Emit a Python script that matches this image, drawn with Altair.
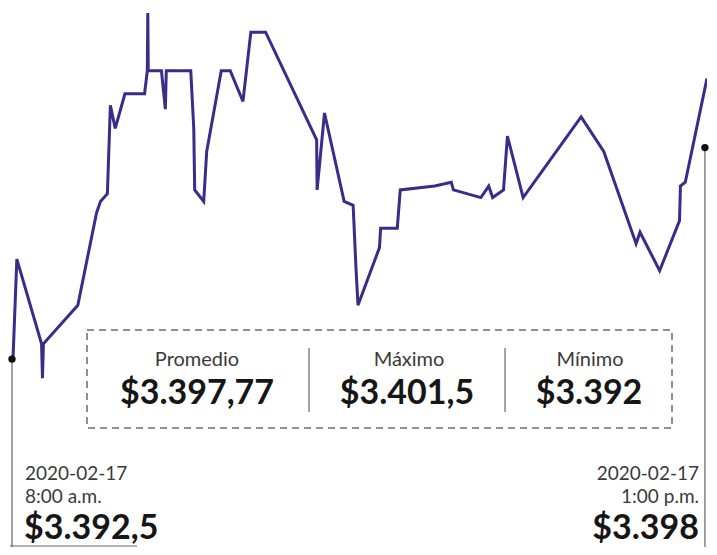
import altair as alt
import pandas as pd

# ---- data ----
minutes = [0, 0.5, 2.1, 12.8, 13.2, 13.6, 28.5, 36.6, 38.3, 41.3, 42.6, 44.7, 48.9, 57.4,
           58.6, 58.8, 59.0, 64.7, 66.4, 66.8, 77.4, 78.7, 79.1, 83.0, 84.3, 90.6, 94.5,
           100.0, 103.4, 109.8, 131.9, 132.1, 135.3, 143.8, 147.7, 148.9, 149.8, 159.1,
           159.6, 166.8, 168.1, 183.0, 190.2, 191.1, 203.0, 206.4, 208.1, 212.8, 214.5,
           221.3, 246.4, 256.2, 270.2, 271.9, 280.4, 289.0, 289.4, 291.5, 300.9]
rates = [3392.5, 3392.6, 3395.1, 3392.9, 3392.0, 3392.9, 3393.9, 3396.3, 3396.6, 3396.8,
         3399.1, 3398.5, 3399.4, 3399.4, 3400.0, 3401.5, 3400.0, 3400.0, 3399.0, 3400.0,
         3400.0, 3398.5, 3396.9, 3396.6, 3397.9, 3400.0, 3400.0, 3399.2, 3401.0, 3401.0,
         3398.2, 3396.9, 3398.9, 3396.6, 3396.5, 3394.9, 3393.9, 3395.4, 3395.9, 3395.9,
         3396.9, 3397.0, 3397.1, 3396.9, 3396.7, 3397.0, 3396.7, 3396.9, 3398.3, 3396.7,
         3398.8, 3397.9, 3395.5, 3395.8, 3394.8, 3396.1, 3397.0, 3397.1, 3399.8]

end_minutes = [0, 300]
end_rates = [3392.5, 3398]

stat_labels = ["Promedio", "Máximo", "Mínimo"]
stat_values = ["$3.397,77", "$3.401,5", "$3.392"]

open_date, open_time, open_value = "2020-02-17", "8:00 a.m.", "$3.392,5"
close_date, close_time, close_value = "2020-02-17", "1:00 p.m.", "$3.398"

W, H = 701, 539
FONT = "Lato"
LINE_COLOR = "#3c2b8a"

series = pd.DataFrame({"t": minutes, "v": rates})
ends = pd.DataFrame({"t": end_minutes, "v": end_rates})

xs = alt.Scale(domain=[-0.86, 300.9], nice=False, zero=False)
ys = alt.Scale(domain=[3387.64, 3401.63], nice=False, zero=False)

line = alt.Chart(series).mark_line(color=LINE_COLOR, strokeWidth=3, clip=True,
                                   strokeJoin="miter").encode(
    x=alt.X("t:Q", scale=xs, axis=None),
    y=alt.Y("v:Q", scale=ys, axis=None),
    order="t:Q",
)

end_rules = alt.Chart(ends).mark_rule(color="#666666", strokeWidth=1.2).encode(
    x=alt.X("t:Q", scale=xs, axis=None),
    y=alt.Y("v:Q", scale=ys, axis=None),
    y2=alt.value(H),
)

end_dots = alt.Chart(ends).mark_point(filled=True, color="#111111", size=55, opacity=1).encode(
    x=alt.X("t:Q", scale=xs, axis=None),
    y=alt.Y("v:Q", scale=ys, axis=None),
)

dummy = alt.Data(values=[{"a": 1}])

base_rule = alt.Chart(dummy).mark_rule(color="#666666", strokeWidth=1.2).encode(
    x=alt.value(0), x2=alt.value(127), y=alt.value(H - 1)
)

box = alt.Chart(dummy).mark_rect(fill=None, fillOpacity=0, stroke="#6b6b6b", strokeWidth=1.5,
                                 strokeDash=[7, 5]).encode(
    x=alt.value(77), x2=alt.value(662), y=alt.value(322), y2=alt.value(420)
)

dividers = [
    alt.Chart(dummy).mark_rule(color="#666666", strokeWidth=1.2).encode(
        x=alt.value(xp), y=alt.value(340), y2=alt.value(404))
    for xp in (299, 495)
]


def label(text, x, y, size, weight="normal", align="center", color="#2a2a2a"):
    return alt.Chart(dummy).mark_text(
        text=text, font=FONT, fontSize=size, fontWeight=weight, align=align,
        baseline="alphabetic", color=color,
    ).encode(x=alt.value(x), y=alt.value(y))


stat_x_label = [187, 399, 580]
stat_x_value = [187, 397, 579]
texts = []
for lab, val, xl, xv in zip(stat_labels, stat_values, stat_x_label, stat_x_value):
    texts.append(label(lab, xl, 358, 20, color="#3a3a3a"))
    texts.append(label(val, xv, 396, 34, weight="bold", color="#161616"))

texts += [
    label(open_date, 15, 472, 19, align="left", color="#3a3a3a"),
    label(open_time, 15, 495, 19, align="left", color="#3a3a3a"),
    label(open_value, 14, 531, 34, weight="bold", align="left", color="#161616"),
    label(close_date, 689, 472, 19, align="right", color="#3a3a3a"),
    label(close_time, 689, 495, 19, align="right", color="#3a3a3a"),
    label(close_value, 689, 531, 34, weight="bold", align="right", color="#161616"),
]

chart = alt.layer(
    box, *dividers, base_rule, end_rules, line, end_dots, *texts
).properties(
    width=W, height=H,
    autosize=alt.AutoSizeParams(type="fit", contains="padding"),
    padding=0,
    background="white",
).configure_view(strokeWidth=0)

chart.save("out.html", embed_options={"renderer": "svg", "actions": False})
